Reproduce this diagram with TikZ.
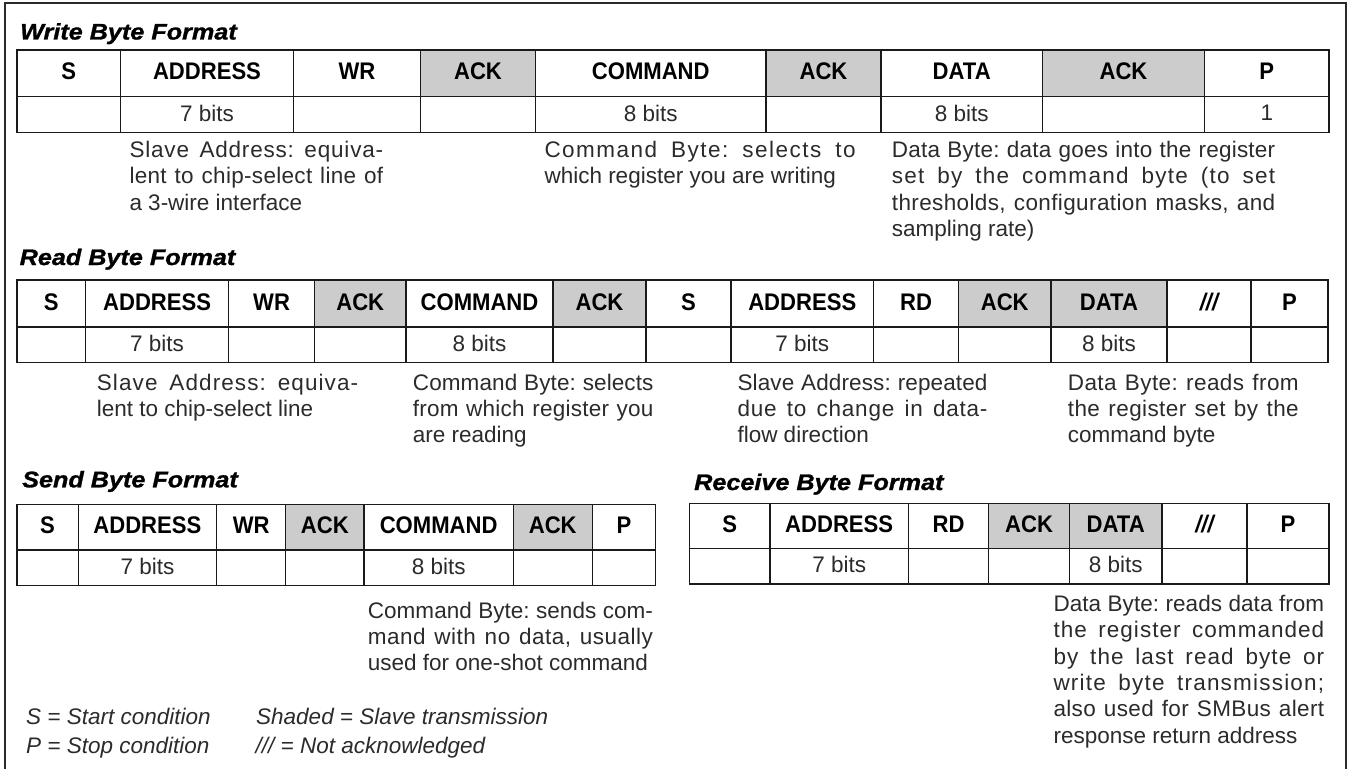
\documentclass[tikz,border=0pt]{standalone}
\usepackage{fontspec}
\setmainfont{Liberation Sans}
\newfontfamily\hdrfont[FakeStretch=0.92]{Liberation Sans}
\newfontfamily\ttlfont[FakeStretch=1.12, FakeBold=1.2]{Liberation Sans}
\definecolor{shade}{HTML}{CCCCCC}
\definecolor{ink}{HTML}{1A1A1A}
\definecolor{bodyc}{HTML}{2B2B2B}
\definecolor{framec}{HTML}{2A2A2A}
\tikzset{
  cellbox/.style={draw=ink, line width=1.1pt, inner sep=0pt, outer sep=0pt, text depth=3.5pt, anchor=north west, text=black},
  hdr/.style={font=\fontsize{24}{28}\selectfont\hdrfont\bfseries},
  bits/.style={font=\fontsize{22.5}{26}\selectfont, text=bodyc},
  sh/.style={fill=shade},
  wh/.style={},
  titletext/.style={font=\fontsize{22.5}{28}\selectfont\ttlfont\bfseries\itshape, anchor=base west, inner sep=0pt},
  desctext/.style={font=\fontsize{22.5}{26.4}\selectfont\frenchspacing, anchor=base west, inner sep=0pt, text=bodyc},
  legendtext/.style={font=\fontsize{22.5}{26}\selectfont\itshape, anchor=base west, inner sep=0pt, text=bodyc},
}
\XeTeXinterchartoks 0 0 = {\hskip 0pt plus 0.6pt\relax}
\newcommand\nak{\itshape ///}
\newcommand\jl[1]{{\XeTeXinterchartokenstate=1 \makebox[\linewidth][s]{#1}}\\}
% #1 name prefix, #2 top, #3 bottom, #4 row style, #5 cells x0/x1/label/fill
\newcommand\tabrow[5]{%
  \foreach \xa/\xb/\lab/\sty [count=\i] in {#5}{%
    \node[cellbox,#4,\sty, minimum width={(\xb-\xa)*1pt}, minimum height={(#3-#2)*1pt}] (#1\i) at (\xa,#2) {\lab};
  }}
\newcommand\desc[5]{\node[desctext] (#1) at (#2,#3) {\parbox[t]{#4pt}{\frenchspacing #5}};}
\begin{document}
\begin{tikzpicture}[x=1pt,y=-1pt]
\useasboundingbox (0,0) rectangle (1348,768);
\fill[white] (0,0) rectangle (1348,768);
% frame
\coordinate (fbl) at (5,772);
\coordinate (ftl) at (5,3.5);
\coordinate (ftr) at (1345.5,3.5);
\coordinate (fbr) at (1345.5,772);
\draw[framec, line width=2pt] (fbl) -- (ftl) -- (ftr) -- (fbr);

% titles
\node[titletext] (tw) at (20,39.5) {Write Byte Format};
\node[titletext] (tr) at (19.5,265) {Read Byte Format};
\node[titletext] (ts) at (22,487.3) {Send Byte Format};
\node[titletext] (tv) at (694,490) {Receive Byte Format};

% Write byte table
\tabrow{wh}{50}{96.7}{hdr}{17/120.5/S/wh, 120.5/293.5/ADDRESS/wh, 293.5/420.5/WR/wh, 420.5/535.5/ACK/sh, 535.5/766/COMMAND/wh, 766/881/ACK/sh, 881/1042.5/DATA/wh, 1042.5/1204.5/ACK/sh, 1204.5/1329/P/wh}
\tabrow{wb}{96.7}{132.7}{bits}{17/120.5/{}/wh, 120.5/293.5/7 bits/wh, 293.5/420.5/{}/wh, 420.5/535.5/{}/wh, 535.5/766/8 bits/wh, 766/881/{}/wh, 881/1042.5/8 bits/wh, 1042.5/1204.5/{}/wh, 1204.5/1329/1/wh}

% Read byte table
\tabrow{rh}{280}{327}{hdr}{17/85.5/S/wh, 85.5/228.7/ADDRESS/wh, 228.7/314.5/WR/wh, 314.5/406/ACK/sh, 406/553/COMMAND/wh, 553/646/ACK/sh, 646/731/S/wh, 731/873.5/ADDRESS/wh, 873.5/958.5/RD/wh, 958.5/1051/ACK/sh, 1051/1167/DATA/sh, 1167/1251/\nak/wh, 1251/1328/P/wh}
\tabrow{rb}{327}{362.7}{bits}{17/85.5/{}/wh, 85.5/228.7/7 bits/wh, 228.7/314.5/{}/wh, 314.5/406/{}/wh, 406/553/8 bits/wh, 553/646/{}/wh, 646/731/{}/wh, 731/873.5/7 bits/wh, 873.5/958.5/{}/wh, 958.5/1051/{}/wh, 1051/1167/8 bits/wh, 1167/1251/{}/wh, 1251/1328/{}/wh}

% Send byte table
\tabrow{sh}{504.5}{550}{hdr}{17/78.2/S/wh, 78.2/216.6/ADDRESS/wh, 216.6/285.7/WR/wh, 285.7/364/ACK/sh, 364/513.3/COMMAND/wh, 513.3/592.2/ACK/sh, 592.2/655.7/P/wh}
\tabrow{sb}{550}{585.7}{bits}{17/78.2/{}/wh, 78.2/216.6/7 bits/wh, 216.6/285.7/{}/wh, 285.7/364/{}/wh, 364/513.3/8 bits/wh, 513.3/592.2/{}/wh, 592.2/655.7/{}/wh}

% Receive byte table
\tabrow{vh}{503.3}{548.7}{hdr}{689.5/770/S/wh, 770/908.3/ADDRESS/wh, 908.3/988.7/RD/wh, 988.7/1069.5/ACK/sh, 1069.5/1162/DATA/sh, 1162/1247/\nak/wh, 1247/1329/P/wh}
\tabrow{vb}{548.7}{584}{bits}{689.5/770/{}/wh, 770/908.3/7 bits/wh, 908.3/988.7/{}/wh, 988.7/1069.5/{}/wh, 1069.5/1162/8 bits/wh, 1162/1247/{}/wh, 1247/1329/{}/wh}

% descriptions
\desc{wd1}{129.3}{157.5}{253.7}{\jl{Slave Address: equiva-}\jl{lent to chip-select line of}a 3-wire interface}
\desc{wd2}{544.3}{157.5}{311.2}{\jl{Command Byte: selects to}which register you are writing}
\desc{wd3}{891.7}{157.5}{383.3}{\jl{Data Byte: data goes into the register}\jl{set by the command byte (to set}\jl{thresholds, configuration masks, and}sampling rate)}

\desc{rd1}{96.7}{390}{261.3}{\jl{Slave Address: equiva-}lent to chip-select line}
\desc{rd2}{412.7}{390}{240.6}{\jl{Command Byte: selects}\jl{from which register you}are reading}
\desc{rd3}{737.3}{390}{250}{\jl{Slave Address: repeated}\jl{due to change in data-}flow direction}
\desc{rd4}{1067.7}{390}{230.8}{\jl{Data Byte: reads from}\jl{the register set by the}command byte}

\desc{sd1}{367.7}{618}{285}{\jl{Command Byte: sends com-}\jl{mand with no data, usually}used for one-shot command}

\desc{vd1}{1053.3}{611.3}{270.7}{\jl{Data Byte: reads data from}\jl{the register commanded}\jl{by the last read byte or}\jl{write byte transmission;}\jl{also used for SMBus alert}response return address}

% legend
\node[legendtext] (l1) at (26,724.7) {S = Start condition};
\node[legendtext] (l2) at (26,753.3) {P = Stop condition};
\node[legendtext] (l3) at (256,724.7) {Shaded = Slave transmission};
\node[legendtext] (l4) at (255.5,753.3) {/// = Not acknowledged};
\end{tikzpicture}
\end{document}
